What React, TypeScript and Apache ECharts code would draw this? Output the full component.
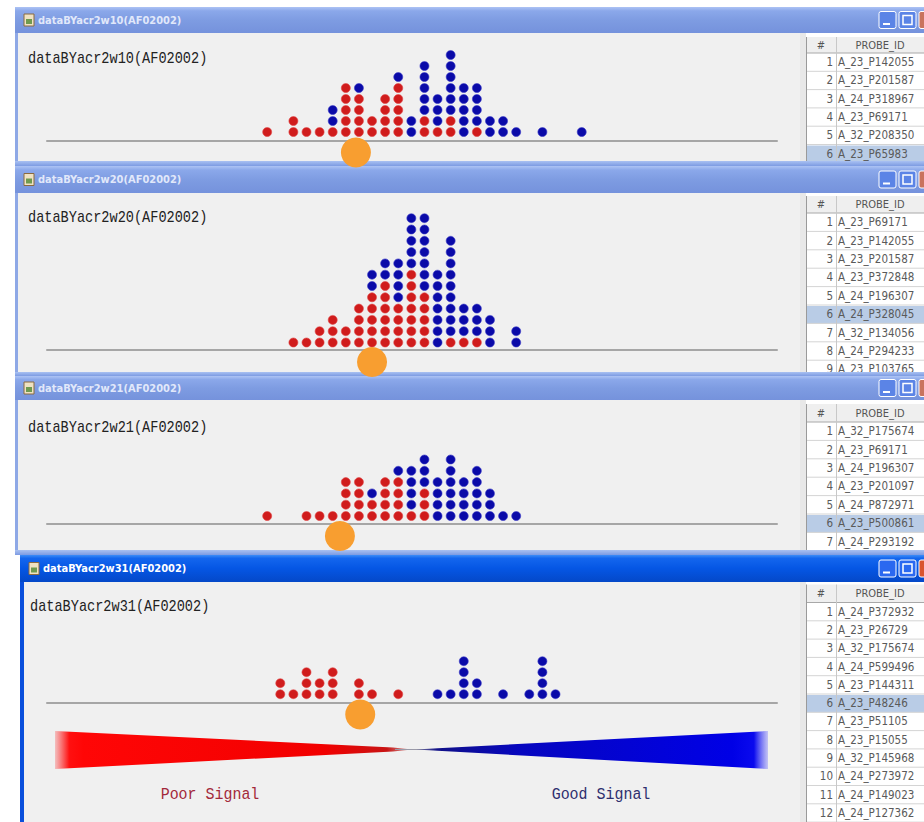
import React, { useEffect, useRef } from "react";
import * as echarts from "echarts";

// ---------- data ----------
const plotTitles = [
  "dataBYacr2w10(AF02002)",
  "dataBYacr2w20(AF02002)",
  "dataBYacr2w21(AF02002)",
  "dataBYacr2w31(AF02002)",
];

// column index (bin) of each stack, red dots (bottom) and blue dots (on top)
const w10Columns = [0, 2, 3, 4, 5, 6, 7, 8, 9, 10, 11, 12, 13, 14, 15, 16, 17, 18, 19, 21, 24];
const w10Red = [1, 2, 1, 1, 1, 5, 4, 2, 4, 5, 0, 2, 1, 2, 0, 1, 0, 0, 0, 0, 0];
const w10Blue = [0, 0, 0, 0, 2, 0, 1, 0, 0, 1, 2, 5, 3, 6, 5, 4, 2, 2, 1, 1, 1];

const w20Columns = [2, 3, 4, 5, 6, 7, 8, 9, 10, 11, 12, 13, 14, 15, 16, 17, 19];
const w20Red = [1, 1, 2, 3, 2, 4, 5, 6, 4, 7, 5, 0, 1, 1, 1, 0, 0];
const w20Blue = [0, 0, 0, 0, 0, 0, 2, 2, 4, 5, 7, 7, 9, 3, 3, 3, 2];

const w21Columns = [0, 3, 4, 5, 6, 7, 8, 9, 10, 11, 12, 13, 14, 15, 16, 17, 18, 19];
const w21Red = [1, 1, 1, 1, 4, 4, 2, 4, 4, 1, 3, 0, 0, 0, 0, 0, 0, 0];
const w21Blue = [0, 0, 0, 0, 0, 0, 1, 0, 1, 4, 3, 4, 6, 4, 5, 3, 1, 1];

const w31Columns = [1, 2, 3, 4, 5, 7, 8, 10, 13, 14, 15, 16, 18, 20, 21, 22];
const w31Red = [2, 1, 3, 2, 3, 2, 1, 1, 0, 0, 0, 0, 0, 0, 0, 0];
const w31Blue = [0, 0, 0, 0, 0, 0, 0, 0, 1, 1, 4, 2, 1, 1, 4, 1];

// orange marker position on the bin axis
const markerPositions = [6.77, 8.0, 5.55, 7.1];

const probesW10 = ["A_23_P142055", "A_23_P201587", "A_24_P318967", "A_23_P69171", "A_32_P208350", "A_23_P65983"];
const probesW20 = ["A_23_P69171", "A_23_P142055", "A_23_P201587", "A_23_P372848", "A_24_P196307", "A_24_P328045", "A_32_P134056", "A_24_P294233", "A_23_P103765"];
const probesW21 = ["A_32_P175674", "A_23_P69171", "A_24_P196307", "A_23_P201097", "A_24_P872971", "A_23_P500861", "A_24_P293192"];
const probesW31 = ["A_24_P372932", "A_23_P26729", "A_32_P175674", "A_24_P599496", "A_23_P144311", "A_23_P48246", "A_23_P51105", "A_23_P15055", "A_32_P145968", "A_24_P273972", "A_24_P149023", "A_24_P127362"];
const selectedRow = 6;
const tableHeaders = ["#", "PROBE_ID"];
const legendLabels = ["Poor Signal", "Good Signal"];

// ---------- layout ----------
const frames = [
  { left: 15, top: 7, titleH: 26, bottom: 161, nextTop: 166, baseline: 140.5, rowGap: 11, rowOff: 8.5, plotH: 100, tableTop: 37, headerH: 16, rowH: 18.3, titleY: 59, titleX: 28, active: false, border: 3 },
  { left: 15, top: 166, titleH: 27, bottom: 372, nextTop: 376, baseline: 350, rowGap: 11.3, rowOff: 7.5, plotH: 150, tableTop: 196, headerH: 17, rowH: 18.4, titleY: 218, titleX: 28, active: false, border: 3 },
  { left: 15, top: 376, titleH: 24, bottom: 550, nextTop: 555, baseline: 524, rowGap: 11.3, rowOff: 8, plotH: 100, tableTop: 404, headerH: 18, rowH: 18.4, titleY: 428, titleX: 28, active: false, border: 3 },
  { left: 20, top: 555, titleH: 27, bottom: 822, nextTop: 822, baseline: 702.5, rowGap: 11, rowOff: 8.3, plotH: 70, tableTop: 584.5, headerH: 18, rowH: 18.3, titleY: 607, titleX: 30, active: true, border: 4 },
];

const RED = "#d01c1c";
const BLUE = "#0a0aa8";
const ORANGE = "#f89e30";
const TABLE_X = 806;
const PAGE_W = 924;

const rect = (x: number, y: number, w: number, h: number, fill: any, extra: any = {}) => ({
  type: "rect",
  shape: { x, y, width: w, height: h, ...(extra.r ? { r: extra.r } : {}) },
  style: { fill, ...(extra.stroke ? { stroke: extra.stroke, lineWidth: extra.lineWidth || 1 } : {}) },
  silent: true,
});
const hline = (x1: number, x2: number, y: number, color: string, w = 1) => ({
  type: "line",
  shape: { x1, y1: y, x2, y2: y },
  style: { stroke: color, lineWidth: w },
  silent: true,
});
const vline = (x: number, y1: number, y2: number, color: string, w = 1) => ({
  type: "line",
  shape: { x1: x, y1, x2: x, y2 },
  style: { stroke: color, lineWidth: w },
  silent: true,
});
const text = (x: number, y: number, t: string, font: string, fill: string, align = "left", scaleX = 1) => ({
  type: "text",
  x,
  y,
  scaleX,
  silent: true,
  style: { text: t, font, fill, textAlign: align, textVerticalAlign: "middle", align, verticalAlign: "middle" },
});
const vgrad = (stops: [number, string][]) => ({
  type: "linear", x: 0, y: 0, x2: 0, y2: 1,
  colorStops: stops.map(([offset, color]) => ({ offset, color })),
});
const hgrad = (stops: [number, string][]) => ({
  type: "linear", x: 0, y: 0, x2: 1, y2: 0,
  colorStops: stops.map(([offset, color]) => ({ offset, color })),
});

function buildGraphics() {
  const probes = [probesW10, probesW20, probesW21, probesW31];
  const g: any[] = [];
  g.push(rect(0, 0, PAGE_W, 822, "#ffffff"));
  frames.forEach((f, i) => {
    const frameColor = f.active ? "#0a4fdc" : "#8ea8e6";
    const contentTop = f.top + f.titleH;
    g.push(rect(f.left, contentTop, f.border, f.bottom - contentTop, frameColor));
    g.push(rect(f.left + f.border, contentTop, TABLE_X - f.left - f.border, f.bottom - contentTop, "#f0f0f0"));
    g.push(rect(TABLE_X - 6, contentTop, 6, f.bottom - contentTop, "#e8e8e8"));
    const barFill = f.active
      ? vgrad([[0, "#3d8df7"], [0.12, "#1466ee"], [0.5, "#0556e4"], [1, "#0448c8"]])
      : vgrad([[0, "#adc3f4"], [0.15, "#8ba8ea"], [0.5, "#7e9ce2"], [1, "#7592dc"]]);
    g.push(rect(f.left, f.top, PAGE_W - f.left, f.titleH, barFill));
    const cy = f.top + f.titleH / 2;
    g.push(rect(f.left + 9, cy - 6, 10, 12, "#efe2c2", { stroke: "#8a6a40" }));
    g.push(rect(f.left + 11, cy - 1, 6, 5, "#6f9a4f"));
    g.push(text(f.left + 23, cy, plotTitles[i], "bold 11px 'DejaVu Sans Condensed'", f.active ? "#ffffff" : "#e1e8fa"));
    const btnFill = f.active ? "#2a68f0" : "#5b84e6";
    g.push(rect(879, cy - 8.5, 17, 17, btnFill, { stroke: "#ffffff", r: 2 }));
    g.push(rect(883, cy + 3, 7, 2, "#ffffff"));
    g.push(rect(899, cy - 8.5, 17, 17, btnFill, { stroke: "#ffffff", r: 2 }));
    g.push(rect(903, cy - 4.5, 9, 9, "none", { stroke: "#ffffff", lineWidth: 1.5 }));
    g.push(rect(919, cy - 8.5, 10, 17, f.active ? "#d9542f" : "#c9735e", { stroke: "#ffffff", r: 2 }));
    g.push(text(f.titleX, f.titleY, plotTitles[i], "16px 'Liberation Mono'", "#222222", "left", 0.85));
    const rowsTop = f.tableTop + f.headerH;
    g.push(rect(TABLE_X, f.tableTop, PAGE_W - TABLE_X, f.bottom - f.tableTop, "#ffffff"));
    g.push(rect(TABLE_X, f.tableTop, PAGE_W - TABLE_X, f.headerH, "#efefef"));
    g.push(text(821, f.tableTop + f.headerH / 2, tableHeaders[0], "11px 'DejaVu Sans Condensed'", "#555555", "center"));
    g.push(text(880, f.tableTop + f.headerH / 2, tableHeaders[1], "11px 'DejaVu Sans Condensed'", "#555555", "center"));
    g.push(hline(TABLE_X, PAGE_W, rowsTop, "#a8a8a8"));
    probes[i].forEach((p, k) => {
      const y0 = rowsTop + k * f.rowH;
      if (k + 1 === selectedRow) g.push(rect(TABLE_X + 1, y0 + 1, PAGE_W - TABLE_X, f.rowH - 1, "#b9cce6"));
      g.push(text(833, y0 + f.rowH / 2, String(k + 1), "11.5px 'DejaVu Sans Condensed'", "#5a5a5a", "right"));
      g.push(text(838, y0 + f.rowH / 2, p, "11.5px 'DejaVu Sans Condensed'", "#5a5a5a", "left"));
      g.push(hline(TABLE_X, PAGE_W, y0 + f.rowH, "#d4d4d4"));
    });
    g.push(vline(TABLE_X + 0.5, f.tableTop, f.bottom, "#9a9a9a"));
    g.push(vline(836.5, f.tableTop, f.bottom, "#c8c8c8"));
    if (f.nextTop > f.bottom) {
      g.push(rect(f.left, f.bottom, PAGE_W - f.left, f.nextTop - f.bottom, vgrad([[0, "#a9c1f2"], [1, "#7d9be2"]])));
    }
  });
  g.push({
    type: "polygon",
    silent: true,
    shape: { points: [[55, 731], [393, 747.5], [412, 749.5], [393, 751.5], [55, 769]] },
    style: { fill: hgrad([[0, "rgba(255,40,40,0.25)"], [0.04, "#ff1010"], [0.08, "#ff0606"], [0.75, "#f20000"], [0.93, "#c81414"], [1, "rgba(190,90,90,0.6)"]]) },
  });
  g.push(hline(395, 440, 749.5, "#9a9aa8", 1));
  g.push({
    type: "polygon",
    silent: true,
    shape: { points: [[416, 749.5], [433, 748.5], [768, 731], [768, 769], [433, 750.5]] },
    style: { fill: hgrad([[0, "rgba(90,90,150,0.6)"], [0.06, "#101088"], [0.3, "#0606c0"], [0.9, "#0000e6"], [0.96, "#0a0aee"], [1, "rgba(60,60,255,0.25)"]]) },
  });
  g.push(text(210, 795, legendLabels[0], "17px 'Liberation Mono'", "#a3283a", "center", 0.88));
  g.push(text(601, 795, legendLabels[1], "17px 'Liberation Mono'", "#2e2e6e", "center", 0.88));
  return g;
}

function buildOption() {
  const windows = [
    { cols: w10Columns, red: w10Red, blue: w10Blue },
    { cols: w20Columns, red: w20Red, blue: w20Blue },
    { cols: w21Columns, red: w21Red, blue: w21Blue },
    { cols: w31Columns, red: w31Red, blue: w31Blue },
  ];
  const grid: any[] = [];
  const xAxis: any[] = [];
  const yAxis: any[] = [];
  const series: any[] = [];
  windows.forEach((w, i) => {
    const f = frames[i];
    const ymin = -f.rowOff / f.rowGap;
    grid.push({ left: 47, width: 730, top: f.baseline - f.plotH, height: f.plotH, containLabel: false });
    xAxis.push({
      type: "value", gridIndex: i, min: -16.8, max: 38.9,
      axisLine: { show: true, onZero: false, lineStyle: { color: "#a6a6a6", width: 2 } },
      axisTick: { show: false }, axisLabel: { show: false }, splitLine: { show: false },
    });
    yAxis.push({
      type: "value", gridIndex: i, min: ymin, max: ymin + f.plotH / f.rowGap, show: false,
      splitLine: { show: false },
    });
    const redPts: number[][] = [];
    const bluePts: number[][] = [];
    w.cols.forEach((c, k) => {
      for (let r = 0; r < w.red[k]; r++) redPts.push([c, r]);
      for (let r = 0; r < w.blue[k]; r++) bluePts.push([c, w.red[k] + r]);
    });
    series.push({
      type: "scatter", xAxisIndex: i, yAxisIndex: i, data: redPts, symbol: "circle", symbolSize: 9,
      itemStyle: { color: RED, opacity: 1, borderColor: "rgba(225,70,70,0.6)", borderWidth: 1 }, silent: true,
    });
    series.push({
      type: "scatter", xAxisIndex: i, yAxisIndex: i, data: bluePts, symbol: "circle", symbolSize: 9,
      itemStyle: { color: BLUE, opacity: 1, borderColor: "rgba(60,60,200,0.6)", borderWidth: 1 }, silent: true,
    });
    series.push({
      type: "scatter", xAxisIndex: i, yAxisIndex: i, data: [[markerPositions[i], ymin - 12 / f.rowGap]],
      symbol: "circle", symbolSize: 30, itemStyle: { color: ORANGE, opacity: 1 }, clip: false, z: 5, silent: true,
    });
  });
  return {
    animation: false,
    backgroundColor: "#ffffff",
    grid, xAxis, yAxis, series,
    graphic: { elements: buildGraphics() },
  };
}

export default function App() {
  const ref = useRef<HTMLDivElement>(null);
  useEffect(() => {
    if (!ref.current) return;
    const chart = echarts.init(ref.current, undefined, { renderer: "svg" });
    chart.setOption(buildOption());
    return () => chart.dispose();
  }, []);
  return <div ref={ref} style={{ position: "fixed", left: 0, top: 0, width: 924, height: 822 }} />;
}
